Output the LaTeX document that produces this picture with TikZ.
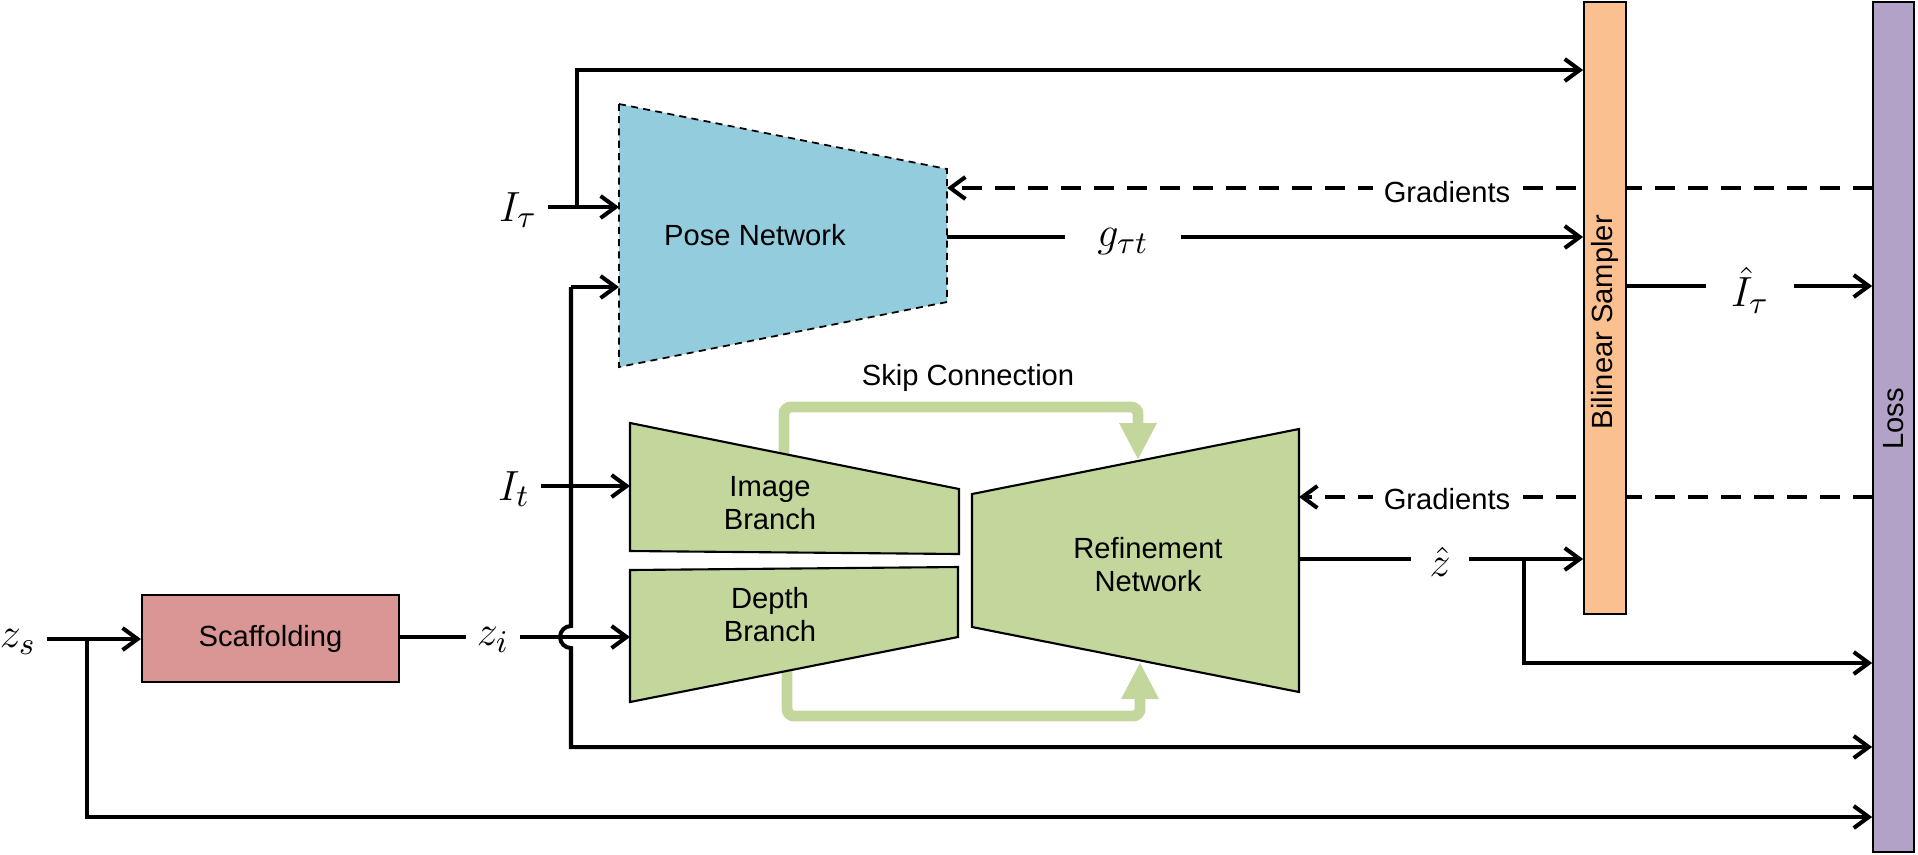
\documentclass[tikz,border=0pt]{standalone}
\usepackage{fontspec}
\setmainfont{Liberation Sans}
\usetikzlibrary{arrows.meta,calc}
\definecolor{posec}{HTML}{93CDDD}
\definecolor{branchc}{HTML}{C3D69B}
\definecolor{scafc}{HTML}{D99694}
\definecolor{samplerc}{HTML}{FAC08F}
\definecolor{lossc}{HTML}{B3A2C7}
\newcommand{\netshape}[5]{\filldraw[#1] #2 -- #3 -- #4 -- #5 -- cycle;}

\begin{document}
\begin{tikzpicture}[font=\fontsize{8.3}{9.4}\selectfont,
  wire/.style={line width=1.15pt},
  thinwire/.style={line width=1pt},
  arr/.style={wire,-{Straight Barb[length=1.5mm,width=2.2mm]}},
  grad/.style={line width=1.15pt,dash pattern=on 0.2cm off 0.13cm,-{Straight Barb[length=1.5mm,width=2.2mm]}},
  skip/.style={draw=branchc,line width=3.1pt,rounded corners=2pt,-{Triangle[length=3.7mm,width=3.5mm]}},
  mlbl/.style={font=\fontsize{12.5}{14}\selectfont,inner sep=1pt,inner xsep=3pt},
  bar/.style={draw,line width=0.5pt,minimum width=#1,inner sep=0pt}]
\useasboundingbox (0,0) rectangle (19.18,-8.54);
% skip connections (under the blocks)
\draw[skip] (7.84,-4.56) -- (7.84,-4.07) -- (11.38,-4.07) -- (11.38,-4.60);
\draw[skip] (7.87,-6.69) -- (7.87,-7.16) -- (11.40,-7.16) -- (11.40,-6.62);
% networks
\netshape{fill=posec,draw=black,line width=0.5pt,dash pattern=on 2pt off 1.5pt}{(6.19,-1.04)}{(9.47,-1.69)}{(9.47,-3.02)}{(6.19,-3.67)}
\netshape{fill=branchc,draw=black,line width=0.6pt}{(6.30,-4.23)}{(9.59,-4.89)}{(9.59,-5.54)}{(6.30,-5.51)}
\netshape{fill=branchc,draw=black,line width=0.6pt}{(6.30,-5.70)}{(9.58,-5.67)}{(9.58,-6.37)}{(6.30,-7.02)}
\netshape{fill=branchc,draw=black,line width=0.6pt}{(9.72,-4.94)}{(12.99,-4.29)}{(12.99,-6.92)}{(9.72,-6.27)}
\node (posenet) at (7.55,-2.35) {Pose Network};
\node[align=center] (imgbr) at (7.70,-5.03) {Image\\Branch};
\node[align=center] (depthbr) at (7.70,-6.15) {Depth\\Branch};
\node[align=center] (refine) at (11.48,-5.65) {Refinement\\Network};
\node (skiplbl) at (9.68,-3.78) {Skip Connection};
\node[draw,fill=scafc,line width=0.6pt,minimum width=2.57cm,minimum height=0.87cm] (scaffold) at (2.705,-6.385) {Scaffolding};
% inputs and labels
\node[mlbl] (itau) at (5.18,-2.10) {$I_\tau$};
\node[mlbl] (it) at (5.14,-4.89) {$I_t$};
\node[mlbl] (zs) at (0.18,-6.42) {$z_s$};
\node[mlbl] (zi) at (4.93,-6.40) {$z_i$};
\node[mlbl,inner xsep=9pt] (gtt) at (11.23,-2.42) {$g_{\tau t}$};
\node[mlbl,inner xsep=7pt] (ihat) at (17.50,-2.90) {$\hat{I}_\tau$};
\node[mlbl,inner xsep=5pt] (zhat) at (14.40,-5.62) {$\hat{z}$};
\coordinate (pose-in1) at (6.19,-2.07); \coordinate (pose-in2) at (6.19,-2.87);
\coordinate (pose-out) at (9.47,-2.37); \coordinate (pose-grad) at (9.47,-1.88);
\coordinate (img-in) at (6.30,-4.86); \coordinate (depth-in) at (6.30,-6.37);
\coordinate (ref-out) at (12.99,-5.59); \coordinate (ref-grad) at (12.99,-4.97);
\coordinate (itau-split) at (5.77,-2.07); \coordinate (hop-top) at (5.71,-2.87);
\coordinate (zs-split) at (0.87,-6.39); \coordinate (zhat-split) at (15.24,-5.59);
\coordinate (ihat-y) at (0,-2.86);
% gradients (dashed, behind the bars)
\draw[grad] (18.73,-1.88) -- (pose-grad);
\draw[grad] (18.73,-4.97) -- (ref-grad);
\node[fill=white,inner sep=3pt] (grad1) at (14.47,-1.92) {Gradients};
\node[fill=white,inner sep=3pt] (grad2) at (14.47,-4.99) {Gradients};
% bars
\node[bar=0.42cm,fill=samplerc,minimum height=6.12cm] (sampler) at (16.05,-3.08) {};
\node[bar=0.41cm,fill=lossc,minimum height=8.50cm] (loss) at (18.935,-4.27) {};
\node[rotate=90] (samplbl) at (16.05,-3.22) {Bilinear Sampler};
\node[rotate=90] (losslbl) at (18.935,-4.19) {Loss};
% connectors
\draw[wire] (itau.east |- itau-split) -- (itau-split); \draw[arr] (itau-split) -- (pose-in1);
\draw[arr] (itau-split) |- (sampler.west |- 0,-0.70);
\draw[arr] (hop-top) -- (pose-in2);
\draw[arr] (hop-top) -- (5.71,-6.26) arc[start angle=90,end angle=270,radius=0.11] |- (loss.west |- 0,-7.47);
\draw[arr] (it.east |- img-in) -- (img-in);
\draw[wire] (zs.east |- zs-split) -- (zs-split); \draw[arr] (zs-split) -- (scaffold.west |- zs-split);
\draw[arr] (zs-split) |- (loss.west |- 0,-8.17);
\draw[wire] (scaffold.east |- depth-in) -- (zi.west |- depth-in); \draw[arr] (zi.east |- depth-in) -- (depth-in);
\draw[thinwire] (pose-out) -- (gtt.west |- pose-out); \draw[arr] (gtt.east |- pose-out) -- (sampler.west |- pose-out);
\draw[thinwire] (sampler.east |- ihat-y) -- (ihat.west |- ihat-y); \draw[arr] (ihat.east |- ihat-y) -- (loss.west |- ihat-y);
\draw[thinwire] (ref-out) -- (zhat.west |- ref-out); \draw[arr] (zhat.east |- ref-out) -- (sampler.west |- ref-out);
\draw[arr] (zhat-split) |- (loss.west |- 0,-6.63);
\end{tikzpicture}
\end{document}
